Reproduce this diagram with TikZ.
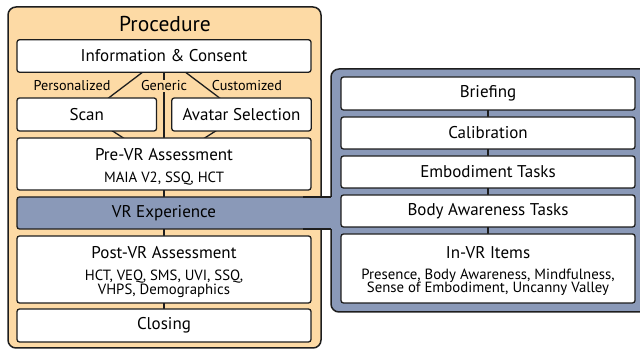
\documentclass[tikz,border=0pt]{standalone}
\usepackage{fontspec}
\setmainfont{PT Sans}
\usetikzlibrary{calc}

\definecolor{procfill}{HTML}{FDDAA5}
\definecolor{vrfill}{HTML}{8A99B8}
\definecolor{inkline}{HTML}{1E1E1E}

\pgfdeclarelayer{panels}
\pgfdeclarelayer{links}
\pgfsetlayers{panels,links,main}

\tikzset{
	stage/.style={draw=inkline, line width=1.3pt, fill=white, rounded corners=2.5pt,
		outer sep=0pt, inner sep=0pt, align=center, font=\fontsize{17}{19}\selectfont},
	wide/.style={stage, minimum width=294pt},
	half/.style={stage, minimum width=139.5pt},
	link/.style={draw=inkline, line width=1.3pt},
	panel/.style={draw=inkline, line width=1.5pt, rounded corners=8pt},
	branch/.style={font=\fontsize{14.2}{16}\selectfont, inner sep=1pt},
}
\newcommand{\subline}[1]{{\fontsize{14.8}{14.8}\selectfont #1}}
\newcommand{\headstrut}{\rule{0pt}{17pt}}

\begin{document}
\begin{tikzpicture}[x=1pt, y=-1pt]
		\useasboundingbox (0,0) rectangle (640,352);
		
		% panels
		\begin{pgfonlayer}{panels}
		\clip (0,0) rectangle (640,352);
		\draw[panel, fill=procfill] (8,7) rectangle (321,348);
		\draw[panel, fill=vrfill] (331,69) rectangle (660,312);
		\end{pgfonlayer}
		
		\node[font=\fontsize{21.5}{24}\selectfont] (proctitle) at (165,24) {Procedure};
		
		% procedure column
		\node[wide, minimum height=32.5pt] (info) at (164,56) {Information \& Consent};
		\node[half, minimum height=33pt] (scan) at (86.75,114.5) {Scan};
		\node[half, minimum height=33pt] (avatar) at (241.5,114.5) {Avatar Selection};
		\node[wide, minimum height=52pt] (prevr) at (164,164) {\headstrut Pre-VR Assessment\\[3pt]\subline{MAIA V2, SSQ, HCT}};
		\node[wide, minimum height=32pt, fill=vrfill] (vr) at (164,213) {VR Experience};
		\node[wide, minimum height=67pt] (postvr) at (164,269.5) {\headstrut Post-VR Assessment\\[3pt]\subline{HCT, VEQ, SMS, UVI, SSQ,}\\[-5.5pt]\subline{VHPS, Demographics}};
		\node[wide, minimum height=33pt] (closing) at (164,325.5) {Closing};
		
		\node[branch] (personal) at (72,86) {Personalized};
		\node[branch, fill=procfill] (generic) at (164,86) {Generic};
		\node[branch] (custom) at (247,86) {Customized};
		
		% VR column
		\node[wide, minimum height=33pt] (briefing) at (488,93.5) {Briefing};
		\node[wide, minimum height=32pt] (calib) at (488,133) {Calibration};
		\node[wide, minimum height=32pt] (embodiment) at (488,172) {Embodiment Tasks};
		\node[wide, minimum height=32pt] (bodyaware) at (488,211) {Body Awareness Tasks};
		\node[wide, minimum height=69pt] (invr) at (488,268.5) {\headstrut In-VR Items\\[2pt]\subline{Presence, Body Awareness, Mindfulness,}\\[-5.5pt]\subline{Sense of Embodiment, Uncanny Valley}};
		
		% bridge from VR Experience to the VR panel
		\coordinate (bridgetop) at (331,197);
		\coordinate (bridgebot) at (331,229);
		\fill[vrfill] ([xshift=-8pt]vr.north east) rectangle ([xshift=1.5pt]bridgebot);
		\draw[link] ([xshift=-8pt]vr.north east) -- (bridgetop);
		\draw[link] ([xshift=-8pt]vr.south east) -- (bridgebot);
		
		% connectors behind the boxes
		\begin{pgfonlayer}{links}
		\draw[link] (info.center) -- (scan.center) -- (prevr.center);
		\draw[link] (info.center) -- (avatar.center) -- (prevr.center);
		\draw[link] (info.center) -- (prevr.center);
		\foreach \a/\b in {prevr/vr, vr/postvr, postvr/closing, briefing/calib, calib/embodiment, embodiment/bodyaware, bodyaware/invr}
			\draw[link] (\a.center) -- (\b.center);
		\end{pgfonlayer}
\end{tikzpicture}
\end{document}
